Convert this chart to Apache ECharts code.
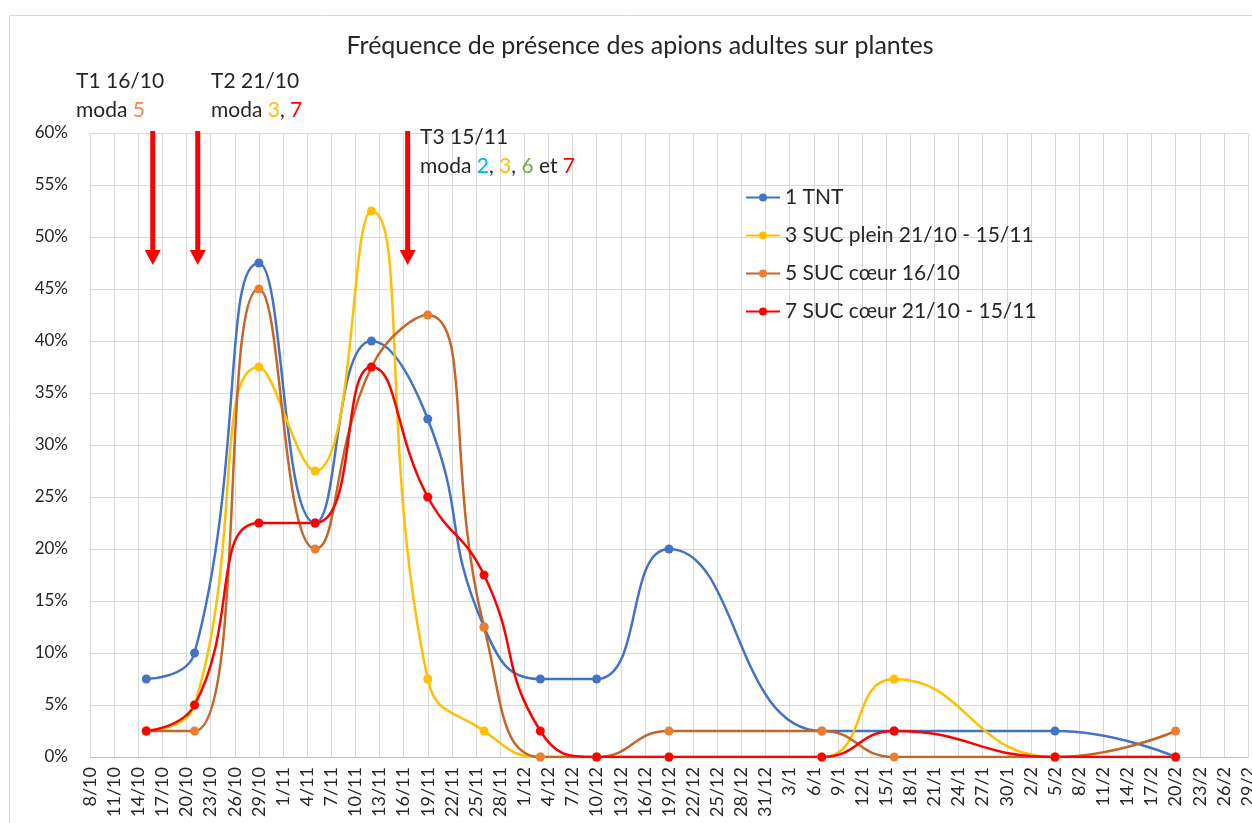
<!DOCTYPE html>
<html>
<head>
<meta charset="utf-8">
<script src="https://cdn.jsdelivr.net/npm/echarts@6/dist/echarts.min.js"></script>
<style>
html,body{margin:0;padding:0;background:#fff;}
#chart{width:1252px;height:823px;}
</style>
</head>
<body>
<div id="chart"></div>
<script>
// ---- data ----
const axisStartDate = [2019, 10, 8];      // 8/10
const axisEndDate   = [2020, 2, 29];      // 29/2
const tickStepDays  = 3;
const sampleDates = ['15/10','21/10','29/10','5/11','12/11','19/11','26/11','3/12','10/12','19/12','7/1','16/1','5/2','20/2'];
const tnt        = [7.5, 10, 47.5, 22.5, 40, 32.5, 12.5, 7.5, 7.5, 20, 2.5, 2.5, 2.5, 0];
const sucPlein   = [2.5, 5, 37.5, 27.5, 52.5, 7.5, 2.5, 0, 0, 0, 0, 7.5, 0, 0];
const sucCoeur16 = [2.5, 2.5, 45, 20, 37.5, 42.5, 12.5, 0, 0, 2.5, 2.5, 0, 0, 2.5];
const sucCoeur21 = [2.5, 5, 22.5, 22.5, 37.5, 25, 17.5, 2.5, 0, 0, 0, 2.5, 0, 0];
const seriesNames = ['1 TNT', '3 SUC plein 21/10 - 15/11', '5 SUC cœur 16/10', '7 SUC cœur 21/10 - 15/11'];
// treatment arrows T1 16/10, T2 21/10, T3 15/11 (hand placed in the original, in day units)
const arrowDayPos = [7.8, 13.4, 39.5];
const arrowTop = 60, arrowTip = 47.3;

// ---- helpers ----
const DAY = 86400000;
const t0 = Date.UTC(axisStartDate[0], axisStartDate[1]-1, axisStartDate[2]);
function dayIndex(s){
  const [d,m] = s.split('/').map(Number);
  const y = m >= 10 ? axisStartDate[0] : axisEndDate[0];
  return Math.round((Date.UTC(y, m-1, d) - t0) / DAY);
}
function dayLabel(v){
  const dt = new Date(t0 + v*DAY);
  return dt.getUTCDate() + '/' + (dt.getUTCMonth()+1);
}
const maxDay = Math.round((Date.UTC(axisEndDate[0], axisEndDate[1]-1, axisEndDate[2]) - t0)/DAY);
const xs = sampleDates.map(dayIndex);
const pts = arr => arr.map((v,i)=>[xs[i], v]);

const FONT = 'Lato, "Open Sans", sans-serif';
const TXT = '#262626';
const AF = '21px ' + FONT;

const chart = echarts.init(document.getElementById('chart'), null, {renderer:'canvas'});

function lineSeries(name, data, lineColor, dotColor){
  return {
    name: name,
    type: 'line',
    data: pts(data),
    smooth: 0.5,
    symbol: 'circle',
    symbolSize: 9,
    showSymbol: true,
    lineStyle: {color: lineColor, width: 2.5},
    itemStyle: {color: dotColor},
    emphasis: {disabled: true},
    animation: false
  };
}

const textGraphics = [
  {type: 'rect', shape: {x: 9.5, y: 15.5, width: 1400, height: 1000}, style: {fill: 'none', stroke: '#D9D9D9', lineWidth: 1}, silent: true, z: -10},
  {type: 'text', left: 76, top: 71, style: {text: 'T1 16/10', font: AF, fill: TXT}},
  {type: 'text', left: 76, top: 100, style: {text: 'moda {o|5}', font: AF, fill: TXT,
    rich: {o: {fill: '#F08A4B', font: AF}}}},
  {type: 'text', left: 211, top: 71, style: {text: 'T2 21/10', font: AF, fill: TXT}},
  {type: 'text', left: 211, top: 100, style: {text: 'moda {y|3}, {r|7}', font: AF, fill: TXT,
    rich: {y: {fill: '#FFC000', font: AF}, r: {fill: '#FF0000', font: AF}}}},
  {type: 'text', left: 420, top: 127, style: {text: 'T3 15/11', font: AF, fill: TXT}},
  {type: 'text', left: 420, top: 156, style: {text: 'moda {b|2}, {y|3}, {g|6} et {r|7}', font: AF, fill: TXT,
    rich: {b: {fill: '#00B0F0', font: AF}, y: {fill: '#FFC000', font: AF},
           g: {fill: '#70AD47', font: AF}, r: {fill: '#FF0000', font: AF}}}}
];

const option = {
  backgroundColor: '#fff',
  animation: false,
  title: {
    text: 'Fréquence de présence des apions adultes sur plantes',
    left: 635, top: 28, textAlign: 'center',
    textStyle: {fontFamily: FONT, fontSize: 25, fontWeight: 'normal', color: TXT}
  },
  grid: {left: 90, right: 4, top: 133, bottom: 66, containLabel: false, outerBoundsMode: 'none'},
  legend: {
    orient: 'vertical', left: 740, top: 182,
    itemWidth: 34, itemHeight: 10, itemGap: 17,
    textStyle: {fontFamily: FONT, fontSize: 21, color: TXT},
    data: seriesNames
  },
  xAxis: {
    type: 'value', min: 0, max: maxDay, interval: tickStepDays,
    axisLine: {show: true, lineStyle: {color: '#BFBFBF', width: 1}},
    axisTick: {show: false},
    splitLine: {show: true, lineStyle: {color: '#D9D9D9', width: 1}},
    axisLabel: {rotate: 90, margin: 10, fontFamily: FONT, fontSize: 18, color: TXT,
      formatter: v => dayLabel(v), showMaxLabel: true, showMinLabel: true, hideOverlap: false}
  },
  yAxis: {
    type: 'value', min: 0, max: 60, interval: 5,
    axisLine: {show: false}, axisTick: {show: false},
    splitLine: {show: true, lineStyle: {color: '#D9D9D9', width: 1}},
    axisLabel: {formatter: '{value}%', margin: 22, fontFamily: FONT, fontSize: 17, color: TXT}
  },
  graphic: textGraphics,
  series: [
    lineSeries(seriesNames[0], tnt, '#4472C4', '#4472C4'),
    lineSeries(seriesNames[1], sucPlein, '#FFC000', '#FFC000'),
    lineSeries(seriesNames[2], sucCoeur16, '#C5652A', '#ED7D31'),
    lineSeries(seriesNames[3], sucCoeur21, '#FF0000', '#FF0000')
  ]
};
chart.setOption(option);

// arrows placed through the chart's own coordinate system
const arrowGraphics = [];
arrowDayPos.forEach(x => {
  const top = chart.convertToPixel({gridIndex: 0}, [x, arrowTop]);
  const tip = chart.convertToPixel({gridIndex: 0}, [x, arrowTip]);
  const headH = 15, headW = 16, shaftW = 5;
  arrowGraphics.push({type: 'rect', shape: {x: top[0] - shaftW/2, y: top[1] - 2, width: shaftW, height: tip[1] - headH - top[1] + 3},
    style: {fill: '#FF0000'}, silent: true, z: 100});
  arrowGraphics.push({type: 'polygon', shape: {points: [[tip[0] - headW/2, tip[1] - headH], [tip[0] + headW/2, tip[1] - headH], [tip[0], tip[1]]]},
    style: {fill: '#FF0000'}, silent: true, z: 100});
});
chart.setOption({graphic: textGraphics.concat(arrowGraphics)}, {replaceMerge: ['graphic']});
</script>
</body>
</html>
